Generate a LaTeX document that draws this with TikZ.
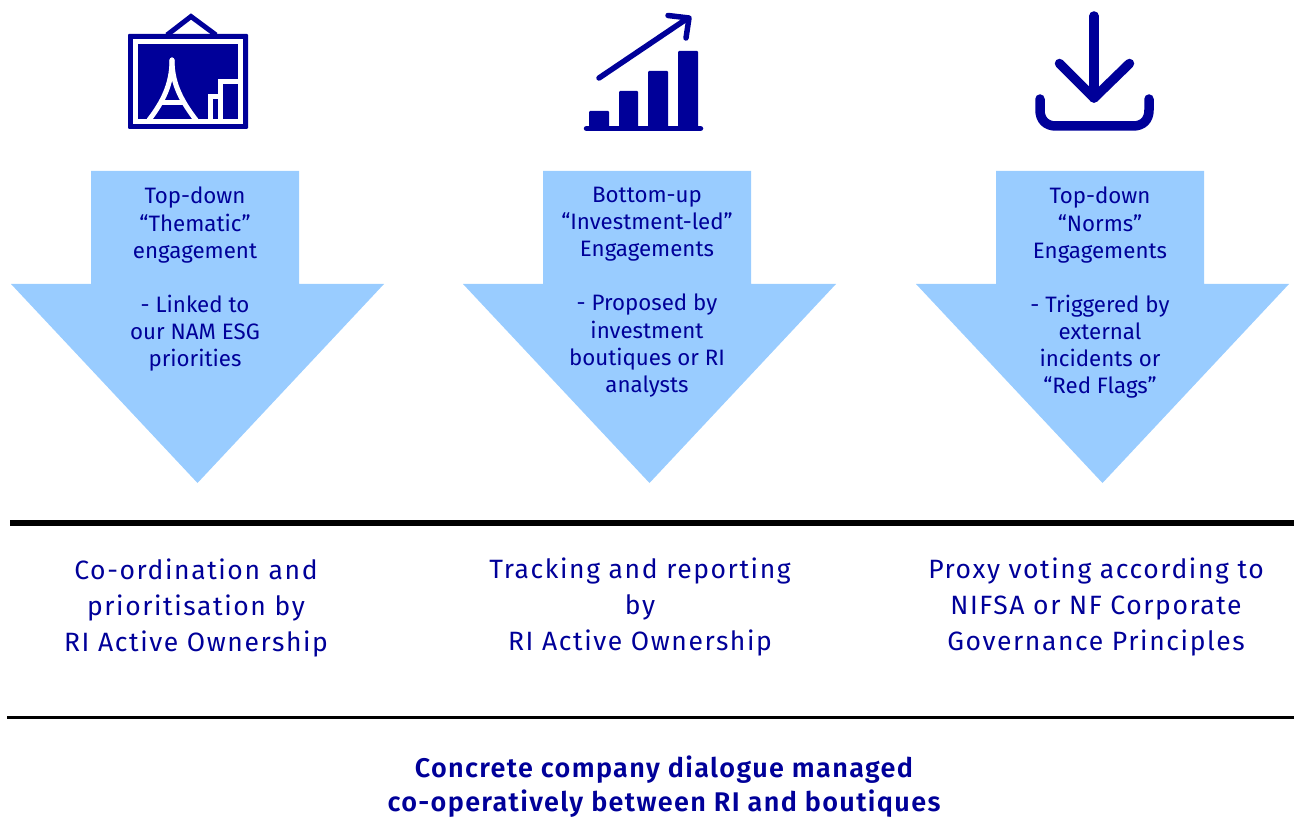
\documentclass[tikz,border=0pt]{standalone}
\usepackage{fontspec}
\setmainfont{Fira Sans}
\newfontfamily\spaced[LetterSpace=6]{Fira Sans}
\newfontfamily\spacedbold[LetterSpace=5,BoldFont={Fira Sans SemiBold}]{Fira Sans SemiBold}
\definecolor{navy}{HTML}{000099}
\definecolor{sky}{HTML}{99CCFF}
\tikzset{
  x=1pt,y=-1pt,
  arrowtext/.style={text=navy,align=center,font=\fontsize{22.3}{27.1}\selectfont,inner sep=0pt},
  midtext/.style={text=navy,align=center,font=\spaced\fontsize{26.5}{36}\selectfont,inner sep=0pt},
  boldtext/.style={text=navy,align=center,font=\spacedbold\fontsize{27}{34.5}\selectfont,inner sep=0pt},
  icon/.style={draw=navy,line cap=round,line join=round},
  ribbon/.style={fill=sky,draw=none}
}
\begin{document}
\begin{tikzpicture}
\useasboundingbox (0,0) rectangle (1294,818);
% picture icon
\fill[navy,rounded corners=1pt] (128,34) rectangle (248,129);
\fill[white] (133,39) rectangle (243,124);
\fill[navy] (138,44) rectangle (238,119);
\draw[icon,line width=5pt,line cap=butt,line join=miter] (167,35) -- (191,16.5) -- (216,35);
\draw[white,line width=5pt,line cap=round] (172,60) .. controls (172,85) and (162,103) .. (149,120);
\draw[white,line width=5pt,line cap=round] (172,60) .. controls (172,85) and (183,103) .. (196,120);
\draw[white,line width=5pt] (160,103) -- (185,103);
\fill[white] (208,119) |- (218,94) -- (218,119) -- cycle;
\fill[navy] (213,119) rectangle (218,99);
\fill[white] (218,124) |- (243,79) -- (243,124) -- cycle;
\fill[navy] (223,119) rectangle (238,84);
% bars icon
\fill[navy,rounded corners=1pt] (589,130) rectangle (609,111);
\fill[navy,rounded corners=1pt] (619,130) rectangle (638,91);
\fill[navy,rounded corners=1pt] (648,130) rectangle (668,71);
\fill[navy,rounded corners=1pt] (678,130) rectangle (698,51);
\draw[icon,line width=5.5pt] (586.5,128.5) -- (700.5,128.5);
\draw[icon,line width=5.5pt] (599,78) -- (688,18);
\draw[icon,line width=5.5pt] (668,15.5) -- (689,18) -- (686,38);
% download icon
\draw[icon,line width=9.5pt] (1094,16) -- (1094,98);
\draw[icon,line width=9.5pt] (1059.5,63.5) -- (1094,98) -- (1129.5,63.5);
\draw[icon,line width=9.5pt] (1040,99) -- (1040,110) .. controls (1040,120) and (1046,126) .. (1056,126) -- (1133,126) .. controls (1143,126) and (1149,120) .. (1149,110) -- (1149,99);
% arrows
\fill[ribbon] (91,171) -- (299,171) -- (299,284) -- (384,284) -- (197.5,483) -- (11,284) -- (91,284) -- cycle;
\fill[ribbon] (543,171) -- (751,171) -- (751,284) -- (836,284) -- (649.5,483) -- (463,284) -- (543,284) -- cycle;
\fill[ribbon] (996,171) -- (1204,171) -- (1204,284) -- (1289,284) -- (1102.5,483) -- (916,284) -- (996,284) -- cycle;
\node[arrowtext,anchor=north] (a1) at (195,187) {Top-down\\“Thematic”\\engagement\\[27.1pt]- Linked to\\our NAM ESG\\priorities};
\node[arrowtext,anchor=north] (a2) at (647,187) {Bottom-up\\“Investment-led”\\Engagements\\[27.1pt]- Proposed by\\investment\\boutiques or RI\\analysts};
\node[arrowtext,anchor=north] (a3) at (1100,187) {Top-down\\“Norms”\\Engagements\\[27.1pt]- Triggered by\\external\\incidents or\\“Red Flags”};
% rules
\coordinate (r1a) at (10,523); \coordinate (r1b) at (1294,523);
\coordinate (r2a) at (7,717); \coordinate (r2b) at (1294,717);
\draw[black,line width=6pt] (r1a) -- (r1b);
\draw[black,line width=3pt] (r2a) -- (r2b);
% middle
\node[midtext,anchor=north] (m1) at (196,559) {Co-ordination and\\prioritisation by\\RI Active Ownership};
\node[midtext,anchor=north] (m2) at (640,558) {Tracking and reporting\\by\\RI Active Ownership};
\node[midtext,anchor=north] (m3) at (1096,558) {Proxy voting according to\\NIFSA or NF Corporate\\Governance Principles};
\node[boldtext,anchor=north] (b1) at (664,755.5) {Concrete company dialogue managed\\co-operatively between RI and boutiques};
\end{tikzpicture}
\end{document}
